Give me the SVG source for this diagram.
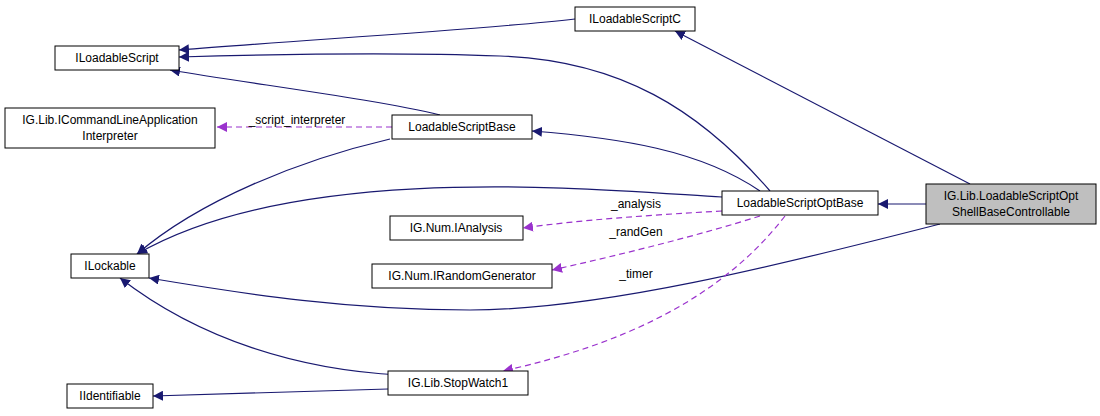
<svg xmlns="http://www.w3.org/2000/svg" width="1100" height="416" viewBox="0 0 1100 416">
<style>
.n rect{fill:#fff;stroke:#000;stroke-width:1}
.n text{font-family:"Liberation Sans",Arial,sans-serif;font-size:12px;text-anchor:middle;fill:#000}
.e{fill:none;stroke:#191970;stroke-width:1.2}
.u{fill:none;stroke:#9a32cd;stroke-width:1.2;stroke-dasharray:6,4}
.l{font-family:"Liberation Sans",Arial,sans-serif;font-size:12px;fill:#000;text-anchor:middle}
</style>
<defs>
<marker id="a" viewBox="0 0 10 10" refX="10" refY="5" markerWidth="10" markerHeight="10" orient="auto" markerUnits="userSpaceOnUse"><path d="M0,0L10,5L0,10z" fill="#191970"/></marker>
<marker id="p" viewBox="0 0 10 10" refX="10" refY="5" markerWidth="10" markerHeight="10" orient="auto" markerUnits="userSpaceOnUse"><path d="M0,0L10,5L0,10z" fill="#9a32cd"/></marker>
</defs>
<rect width="1100" height="416" fill="#fff"/>
<g id="edges">
<path class="e" d="M575,19 C480,30 300,40 179,50" marker-end="url(#a)"/>
<path class="e" d="M770,191 C700,110 620,60 500,56 C400,52 280,54 179,57" marker-end="url(#a)"/>
<path class="e" d="M440,115 C380,100 260,85 170,70" marker-end="url(#a)"/>
<path class="u" d="M392,127 L217,127" marker-end="url(#p)"/>
<path class="e" d="M390,139 C300,160 200,200 137,254" marker-end="url(#a)"/>
<path class="e" d="M760,191 C700,150 620,138 532,131" marker-end="url(#a)"/>
<path class="e" d="M722,197 C600,190 300,160 137,254" marker-end="url(#a)"/>
<path class="e" d="M940,224 C780,265 600,310 470,310 C350,310 250,295 149,278" marker-end="url(#a)"/>
<path class="e" d="M970,184 L675,31" marker-end="url(#a)"/>
<path class="e" d="M926,204 L878,204" marker-end="url(#a)"/>
<path class="u" d="M722,211 C650,215 580,220 523,228" marker-end="url(#p)"/>
<path class="u" d="M760,216 C700,235 620,255 552,270" marker-end="url(#p)"/>
<path class="u" d="M785,216 C720,300 620,345 503,371" marker-end="url(#p)"/>
<path class="e" d="M400,375 C300,370 200,340 120,278" marker-end="url(#a)"/>
<path class="e" d="M388,389 L153,396" marker-end="url(#a)"/>
<text class="l" x="297" y="124">_script_interpreter</text>
<text class="l" x="636" y="208">_analysis</text>
<text class="l" x="636" y="236">_randGen</text>
<text class="l" x="636" y="278">_timer</text>
</g>
<g id="ILoadableScriptC" class="n"><rect x="575" y="7" width="120" height="24"/><text x="635" y="23">ILoadableScriptC</text></g>
<g id="ILoadableScript" class="n"><rect x="55" y="46" width="124" height="24"/><text x="117" y="62">ILoadableScript</text></g>
<g id="ICmd" class="n"><rect x="5" y="108" width="210" height="40"/><text x="110" y="124">IG.Lib.ICommandLineApplication</text><text x="110" y="140">Interpreter</text></g>
<g id="LoadableScriptBase" class="n"><rect x="392" y="115" width="140" height="24"/><text x="462" y="131">LoadableScriptBase</text></g>
<g id="LoadableScriptOptBase" class="n"><rect x="722" y="191" width="156" height="24"/><text x="800" y="207">LoadableScriptOptBase</text></g>
<g id="Shell" class="n"><rect x="926" y="184" width="170" height="40" style="fill:#bfbfbf"/><text x="1011" y="200">IG.Lib.LoadableScriptOpt</text><text x="1011" y="216">ShellBaseControllable</text></g>
<g id="IAnalysis" class="n"><rect x="390" y="216" width="133" height="24"/><text x="456" y="232">IG.Num.IAnalysis</text></g>
<g id="ILockable" class="n"><rect x="71" y="254" width="78" height="24"/><text x="110" y="270">ILockable</text></g>
<g id="IRandomGenerator" class="n"><rect x="372" y="264" width="180" height="24"/><text x="462" y="280">IG.Num.IRandomGenerator</text></g>
<g id="IIdentifiable" class="n"><rect x="67" y="384" width="86" height="24"/><text x="110" y="400">IIdentifiable</text></g>
<g id="StopWatch1" class="n"><rect x="388" y="371" width="140" height="24"/><text x="458" y="387">IG.Lib.StopWatch1</text></g>
</svg>
